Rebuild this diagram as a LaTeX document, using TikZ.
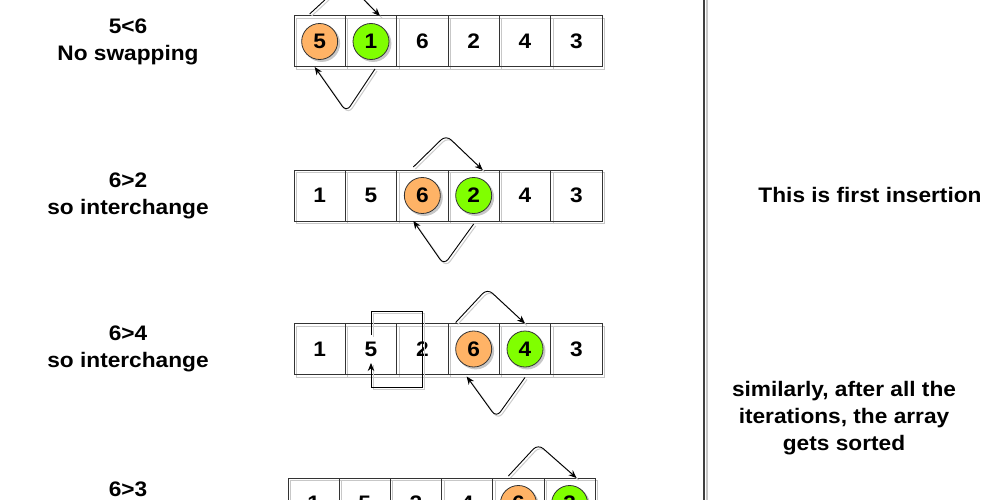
\documentclass[tikz,border=0pt]{standalone}
\usepackage{fontspec}
\setmainfont{Liberation Sans}[FakeStretch=1.08]
\usetikzlibrary{calc,arrows.meta}
\definecolor{orng}{HTML}{FFB366}
\definecolor{lgreen}{HTML}{80FF00}
\definecolor{edge}{HTML}{333333}
\begin{document}
\begin{tikzpicture}[x=1pt,y=-1pt,
  every node/.style={font=\fontsize{21}{27}\selectfont\bfseries, text=black},
  cell/.style={draw=edge, line width=1pt, minimum width=51.33pt, minimum height=51pt, inner sep=0pt, outer sep=0pt,
    preaction={draw=black!22, line width=1pt, transform canvas={shift={(2.5pt,-2.5pt)}}}},
  cellb/.style={cell, minimum width=51.2pt},
  ball/.style={circle, draw=edge, line width=0.8pt, minimum size=36pt, inner sep=0pt,
    preaction={fill=black!22, draw=black!22, transform canvas={shift={(2pt,-2pt)}}}},
  oball/.style={ball, fill=orng},
  gball/.style={ball, fill=lgreen},
  arr/.style={draw=black, line width=0.9pt, rounded corners=7pt, -{Stealth[length=8pt,width=6.5pt]},
    preaction={draw=black!20, line width=1pt, -, transform canvas={shift={(2pt,-2pt)}}}},
  sarr/.style={arr, rounded corners=0pt},
  lbl/.style={align=center}
]
\useasboundingbox (0,0) rectangle (1000,500);
\clip (0,0) rectangle (1000,500);
\fill[white] (0,0) rectangle (1000,500);

% ---------- row 1 ----------
\node[cell] (r1c1) at (319.67,41.5) {};
\node[cell] (r1c2) at (371.00,41.5) {};
\node[cell] (r1c3) at (422.33,41.5) {6};
\node[cell] (r1c4) at (473.67,41.5) {2};
\node[cell] (r1c5) at (525.00,41.5) {4};
\node[cell] (r1c6) at (576.33,41.5) {3};
\node[oball] (r1b1) at (r1c1) {5};
\node[gball] (r1b2) at (r1c2) {1};
\draw[arr] ($(r1c1.north)+(-10,-2)$) -- ($(r1c1.north east)+(0,-35)$) -- ($(r1c2.north)+(9,0)$);
\draw[arr] ($(r1c2.south)+(4,2)$) -- ($(r1c1.south east)+(1,45)$) -- ($(r1c1.south)+(-5,0)$);
\node[lbl] (l1) at (128,41.5) {5<6\\No swapping};

% ---------- row 2 ----------
\node[cell] (r2c1) at (319.67,195.5) {1};
\node[cell] (r2c2) at (371.00,195.5) {5};
\node[cell] (r2c3) at (422.33,195.5) {};
\node[cell] (r2c4) at (473.67,195.5) {};
\node[cell] (r2c5) at (525.00,195.5) {4};
\node[cell] (r2c6) at (576.33,195.5) {3};
\node[oball] (r2b3) at (r2c3) {6};
\node[gball] (r2b4) at (r2c4) {2};
\draw[arr] ($(r2c3.north)+(-9,-3)$) -- ($(r2c3.north east)+(-2,-35)$) -- ($(r2c4.north)+(9,0)$);
\draw[arr] ($(r2c4.south)+(0,3)$) -- ($(r2c3.south east)+(-4,44)$) -- ($(r2c3.south)+(-9,0)$);
\node[lbl] (l2) at (128,195.5) {6>2\\so interchange};

% ---------- row 3 ----------
\node[cell] (r3c1) at (319.67,349) {1};
\node[cell] (r3c2) at (371.00,349) {5};
\node[cell] (r3c3) at (422.33,349) {2};
\node[cell] (r3c4) at (473.67,349) {};
\node[cell] (r3c5) at (525.00,349) {};
\node[cell] (r3c6) at (576.33,349) {3};
\node[oball] (r3b4) at (r3c4) {6};
\node[gball] (r3b5) at (r3c5) {4};
\draw[arr] ($(r3c4.north)+(-18,-1)$) -- ($(r3c4.north east)+(-12,-35)$) -- (r3c5.north);
\draw[arr] ($(r3c5.south)+(0,3)$) -- ($(r3c4.south east)+(-3,43)$) -- ($(r3c4.south)+(-7,2)$);
\draw[sarr] ($(r3c2.center)+(0,-14)$) |- ($(r3c3.center)+(0,-38)$) -- ($(r3c3.center)+(0,38)$) -| ($(r3c2.center)+(0,14)$);
\node[lbl] (l3) at (128,349) {6>4\\so interchange};

% ---------- row 4 ----------
\node[cellb] (r4c1) at (313.6,503.5) {1};
\node[cellb] (r4c2) at (364.8,503.5) {5};
\node[cellb] (r4c3) at (416.0,503.5) {2};
\node[cellb] (r4c4) at (467.2,503.5) {4};
\node[cellb] (r4c5) at (518.4,503.5) {};
\node[cellb] (r4c6) at (569.6,503.5) {};
\node[oball] (r4b5) at (r4c5) {6};
\node[gball] (r4b6) at (r4c6) {3};
\draw[arr] ($(r4c5.north)+(-10,-2)$) -- ($(r4c5.north east)+(-6,-34)$) -- ($(r4c6.north)+(7,0)$);
\node (l4) at (128,489) {6>3};

% ---------- separator ----------
\coordinate (vtop) at (704,0);
\coordinate (vbot) at (704,500);
\draw[black!22, line width=1.5pt] ($(vtop)+(3,0)$) -- ($(vbot)+(3,0)$);
\draw[black!75, line width=1.8pt] (vtop) -- (vbot);

% ---------- right texts ----------
\node (t1) at (870,195) {This is first insertion};
\node[lbl] (t2) at (844,418) {similarly, after all the\\iterations, the array\\gets sorted};
\end{tikzpicture}
\end{document}
